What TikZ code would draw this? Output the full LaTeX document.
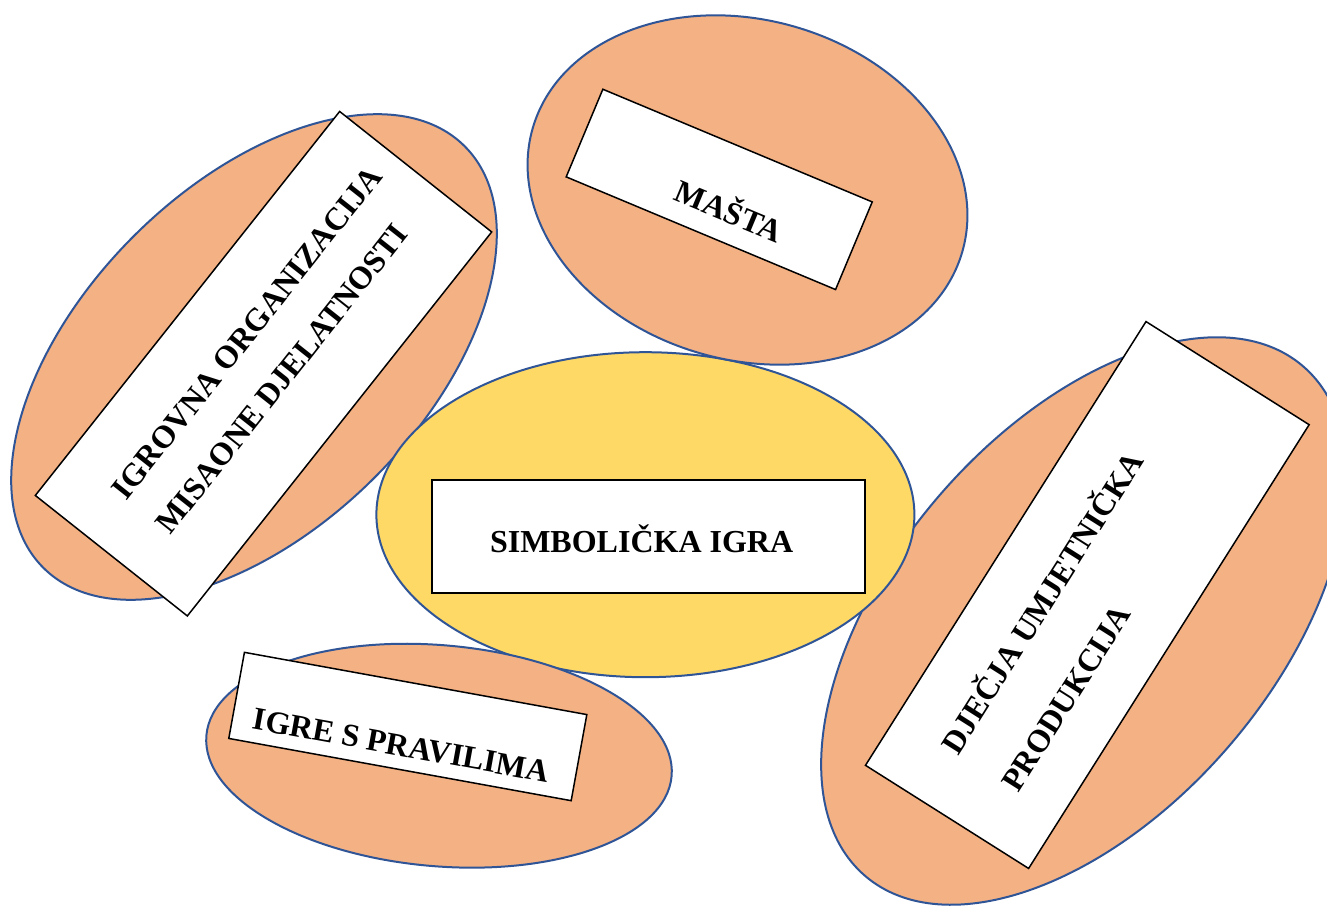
\documentclass[tikz,border=0pt]{standalone}
\usepackage{fontspec}
\setmainfont{Liberation Serif}
\usepackage{tikz}
\usetikzlibrary{shapes.geometric}
\usetikzlibrary{calc}
\definecolor{peach}{HTML}{F4B183}
\definecolor{gold}{HTML}{FFD966}
\definecolor{rim}{HTML}{2F5597}

\begin{document}
\begin{tikzpicture}[x=1pt, y=-1pt,
        every node/.style={font=\bfseries\fontsize{32}{56}\selectfont},
        oval/.style={ellipse, draw=rim, line width=2pt, fill=peach, inner sep=0pt},
        card/.style={rectangle, draw=black, line width=1.5pt, fill=white, inner sep=0pt},
        word/.style={inner sep=0pt, text height=21pt, text depth=0pt},
        lines/.style={inner sep=0pt, align=left},
      ]
      \useasboundingbox (0,0) rectangle (1327,905);

      \node[oval, minimum width=596pt, minimum height=341pt, rotate=45] (igrovna-o) at (254,357) {};
      \node[card, minimum width=490pt, minimum height=194pt, rotate=51.6] (igrovna) at (263.5,363.7) {};
      \node[lines, rotate=51.6] (igrovna-t) at ($(igrovna)+(5.4,-13.6)$) {IGROVNA ORGANIZACIJA\\MISAONE DJELATNOSTI};

      \node[oval, minimum width=672pt, minimum height=383pt, rotate=49.3] (djecja-o) at (1084,621) {};
      \node[card, minimum width=525pt, minimum height=193pt, rotate=57.7] (djecja) at (1087.3,595) {};
      \node[lines, rotate=57.7, font=\bfseries\fontsize{32}{71}\selectfont] (djecja-t) at ($(djecja)+(-17.3,25)$) {DJEČJA UMJETNIČKA\\PRODUKCIJA};

      \node[oval, fill=gold, minimum width=538pt, minimum height=325pt] (simbolicka-o) at (645.4,514.7) {};
      \node[card, minimum width=433pt, minimum height=113pt] (simbolicka) at (648.5,536.5) {};
      \node[word] (simbolicka-t) at ($(simbolicka)+(-6.9,5.9)$) {SIMBOLIČKA IGRA};

      \node[oval, minimum width=447pt, minimum height=340pt, rotate=-16] (masta-o) at (747.5,190) {};
      \node[card, minimum width=292pt, minimum height=95pt, rotate=-22.7] (masta) at (719.2,189.4) {};
      \node[word, rotate=-22.7] (masta-t) at ($(masta)+(9.5,22.4)$) {MAŠTA};

      \node[oval, minimum width=467pt, minimum height=221pt, rotate=-5] (pravila-o) at (439,755.7) {};
      \node[card, minimum width=348pt, minimum height=87.5pt, rotate=-10.3] (pravila) at (407.8,726.5) {};
      \node[word, rotate=-10.3] (pravila-t) at ($(pravila)+(-6.4,18.9)$) {IGRE S PRAVILIMA};
    \end{tikzpicture}
\end{document}
